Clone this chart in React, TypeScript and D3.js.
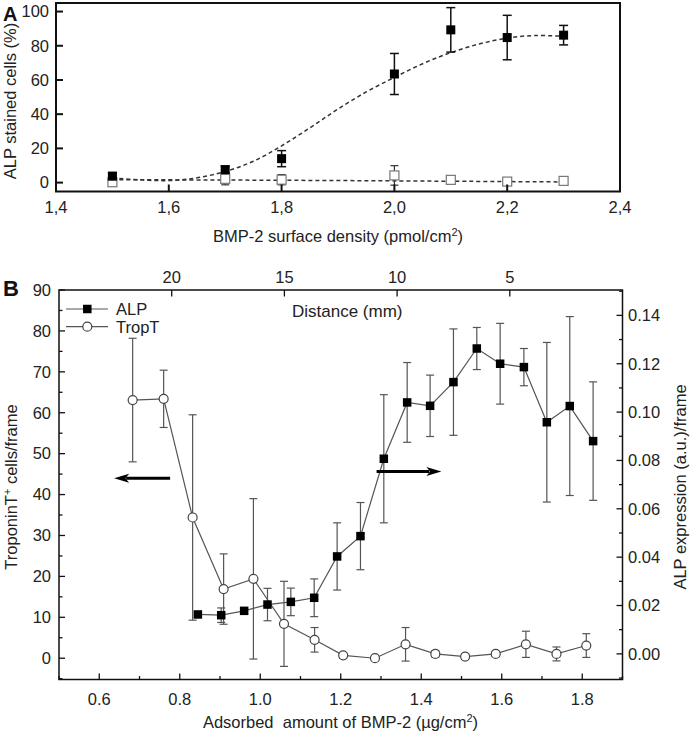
import * as d3 from "d3";

const FONT = "'Liberation Sans', Arial, Helvetica, sans-serif";

// Panel A: ALP stained cells vs BMP-2 surface density
const A_DENSITY = [1.5, 1.7, 1.8, 2.0, 2.1, 2.2, 2.3];
const A_ALP = [3.8, 7.6, 14, 63.5, 89.3, 84.8, 86.2];
const A_ALP_ERR = [2, 2, 4.7, 12, 13, 13, 5.7];
const A_CTRL = [0.2, 2.2, 1.7, 4.2, 1.6, 0.6, 1.0];
const A_CTRL_ERR = [1.2, 3.5, 3, 5.7, 1.5, 1.2, 1.5];
const A_FIT_X = [1.5, 1.55, 1.6, 1.65, 1.7, 1.75, 1.8, 1.85, 1.9, 1.95, 2.0, 2.05, 2.1, 2.15, 2.2, 2.25, 2.3];
const A_FIT_Y = [2.8, 1.6, 1.2, 2.8, 6.5, 12.5, 21.5, 32, 43, 53, 61.5, 69.5, 76, 81, 84.5, 86, 85.5];
const A_CTRL_FIT_X = [1.5, 1.7, 1.9, 2.1, 2.3];
const A_CTRL_FIT_Y = [1.7, 1.5, 1.2, 0.8, 0.4];
const A_XTICKS = [1.4, 1.6, 1.8, 2.0, 2.2, 2.4];
const A_YTICKS = [0, 20, 40, 60, 80, 100];

// Panel B: TroponinT+ cells and ALP expression vs adsorbed BMP-2
const TROP_X = [0.683, 0.76, 0.832, 0.909, 0.983, 1.059, 1.135, 1.206, 1.285, 1.361, 1.435, 1.509, 1.585, 1.66, 1.736, 1.81];
const TROP_Y = [63.1, 63.4, 34.4, 16.9, 19.4, 8.4, 4.5, 0.7, 0.0, 3.4, 1.05, 0.4, 1.05, 3.4, 1.05, 3.1];
const TROP_ERR = [15.1, 7, 25.1, 8.6, 19.6, 10.4, 3, 0.6, 0.3, 4.1, 0.8, 0.6, 0.6, 3.2, 1.7, 2.9];
const ALP_X = [0.845, 0.903, 0.96, 1.018, 1.076, 1.134, 1.191, 1.249, 1.307, 1.365, 1.422, 1.48, 1.538, 1.596, 1.655, 1.712, 1.769, 1.827];
const ALP_Y = [0.0163, 0.016, 0.0178, 0.0204, 0.0215, 0.0232, 0.0403, 0.0487, 0.0807, 0.104, 0.1026, 0.1124, 0.1263, 0.12, 0.1186, 0.0958, 0.1025, 0.088];
const ALP_ERR = [0.0005, 0.003, 0.001, 0.0067, 0.0057, 0.0078, 0.0139, 0.0139, 0.0265, 0.0165, 0.0127, 0.022, 0.0087, 0.0167, 0.0077, 0.033, 0.037, 0.0245];
const B_XTICKS = [0.6, 0.8, 1.0, 1.2, 1.4, 1.6, 1.8];
const B_XMINOR = [0.5, 0.7, 0.9, 1.1, 1.3, 1.5, 1.7, 1.9];
const B_LTICKS = [0, 10, 20, 30, 40, 50, 60, 70, 80, 90];
const B_LMINOR = [-5, 5, 15, 25, 35, 45, 55, 65, 75, 85];
const B_RTICKS = [0, 0.02, 0.04, 0.06, 0.08, 0.1, 0.12, 0.14];
const B_RMINOR = [-0.01, 0.01, 0.03, 0.05, 0.07, 0.09, 0.11, 0.13, 0.15];
const DIST_TICKS = [20, 15, 10, 5];

function ErrorBar({ x, y0, y1, cap, stroke, width = 1.2 }: any) {
  return (
    <g stroke={stroke} strokeWidth={width}>
      <line x1={x} x2={x} y1={y0} y2={y1} />
      <line x1={x - cap / 2} x2={x + cap / 2} y1={y0} y2={y0} />
      <line x1={x - cap / 2} x2={x + cap / 2} y1={y1} y2={y1} />
    </g>
  );
}

function PanelA() {
  const x = d3.scaleLinear().domain([1.4, 2.4]).range([56, 620]);
  const y = d3.scaleLinear().domain([-5.2, 105]).range([191.5, 3]);
  const fit = d3
    .line<number>()
    .x((_, i) => x(A_FIT_X[i]))
    .y((d) => y(d))
    .curve(d3.curveCatmullRom);
  const ctrlFit = d3
    .line<number>()
    .x((_, i) => x(A_CTRL_FIT_X[i]))
    .y((d) => y(d))
    .curve(d3.curveCatmullRom);
  const fmt = (v: number) => d3.format(".1f")(v).replace(".", ",");
  const s = 9;

  return (
    <g>
      <path d={fit(A_FIT_Y)!} fill="none" stroke="#333" strokeWidth={1.5} strokeDasharray="4,3" />
      <path d={ctrlFit(A_CTRL_FIT_Y)!} fill="none" stroke="#333" strokeWidth={1.5} strokeDasharray="4,3" />

      {A_DENSITY.map((d, i) => (
        <ErrorBar key={"ce" + i} x={x(d)} y0={y(A_CTRL[i] - A_CTRL_ERR[i])} y1={y(A_CTRL[i] + A_CTRL_ERR[i])} cap={8} stroke="#333" />
      ))}
      {A_DENSITY.map((d, i) => (
        <rect key={"cs" + i} x={x(d) - s / 2} y={y(A_CTRL[i]) - s / 2} width={s} height={s} fill="#fff" stroke="#777" strokeWidth={1.2} />
      ))}
      {A_DENSITY.map((d, i) => (
        <ErrorBar key={"ae" + i} x={x(d)} y0={y(A_ALP[i] - A_ALP_ERR[i])} y1={y(A_ALP[i] + A_ALP_ERR[i])} cap={9} stroke="#111" width={1.5} />
      ))}
      {A_DENSITY.map((d, i) => (
        <rect key={"as" + i} x={x(d) - s / 2} y={y(A_ALP[i]) - s / 2} width={s} height={s} fill="#000" />
      ))}

      {/* frame and ticks */}
      <rect x={56} y={3} width={564} height={188.5} fill="none" stroke="#111" strokeWidth={2} />
      {A_YTICKS.map((t) => (
        <g key={"yt" + t}>
          <line x1={56} x2={63} y1={y(t)} y2={y(t)} stroke="#111" strokeWidth={2} />
          <text x={49} y={y(t)} dy="0.35em" textAnchor="end" fontSize={16.5} fill="#222">{t}</text>
        </g>
      ))}
      {A_XTICKS.map((t) => (
        <g key={"xt" + t}>
          <line x1={x(t)} x2={x(t)} y1={191.5} y2={184.5} stroke="#111" strokeWidth={2} />
          <text x={x(t)} y={213} textAnchor="middle" fontSize={16.5} fill="#222">{fmt(t)}</text>
        </g>
      ))}
      <text x={338} y={242} textAnchor="middle" fontSize={16.5} fill="#222">
        BMP-2 surface density (pmol/cm<tspan fontSize={11} dy={-6}>2</tspan><tspan dy={6}>)</tspan>
      </text>
      <text transform="translate(16,101) rotate(-90)" textAnchor="middle" fontSize={16.5} fill="#222">
        ALP stained cells (%)
      </text>
      <text x={3} y={21} fontSize={20} fontWeight="bold" fill="#111">A</text>
    </g>
  );
}

function Arrow({ x1, x2, y }: any) {
  const dir = Math.sign(x2 - x1);
  const head = 15;
  return (
    <g>
      <line x1={x1} x2={x2 - dir * head * 0.8} y1={y} y2={y} stroke="#000" strokeWidth={3} />
      <path d={`M${x2},${y} L${x2 - dir * head},${y - 4.5} L${x2 - dir * head * 0.75},${y} L${x2 - dir * head},${y + 4.5} Z`} fill="#000" />
    </g>
  );
}

function PanelB() {
  const L = 59, R = 622.5, T = 290, B = 679.5;
  const x = d3.scaleLinear().domain([0.5, 1.9]).range([L, R]);
  const yL = d3.scaleLinear().domain([-5.2, 90]).range([B, T]);
  const yR = d3.scaleLinear().domain([-0.0106, 0.1505]).range([B, T]);
  const xTop = d3.scaleLinear().domain([25, 0]).range([L, R]);
  const lineTrop = d3.line<number>().x((_, i) => x(TROP_X[i])).y((d) => yL(d));
  const lineAlp = d3.line<number>().x((_, i) => x(ALP_X[i])).y((d) => yR(d));
  const gray = "#555";
  const s = 8.5;
  const r = 4.5;
  const fs = 16.5;

  return (
    <g>
      <path d={lineTrop(TROP_Y)!} fill="none" stroke={gray} strokeWidth={1.2} />
      <path d={lineAlp(ALP_Y)!} fill="none" stroke={gray} strokeWidth={1.2} />
      {TROP_X.map((d, i) => (
        <ErrorBar key={"te" + i} x={x(d)} y0={yL(TROP_Y[i] - TROP_ERR[i])} y1={yL(TROP_Y[i] + TROP_ERR[i])} cap={8} stroke={gray} />
      ))}
      {ALP_X.map((d, i) => (
        <ErrorBar key={"ae" + i} x={x(d)} y0={yR(ALP_Y[i] - ALP_ERR[i])} y1={yR(ALP_Y[i] + ALP_ERR[i])} cap={8} stroke={gray} />
      ))}
      {TROP_X.map((d, i) => (
        <circle key={"tc" + i} cx={x(d)} cy={yL(TROP_Y[i])} r={r} fill="#fff" stroke="#444" strokeWidth={1.2} />
      ))}
      {ALP_X.map((d, i) => (
        <rect key={"as" + i} x={x(d) - s / 2} y={yR(ALP_Y[i]) - s / 2} width={s} height={s} fill="#000" />
      ))}

      {/* direction arrows */}
      <Arrow x1={x(0.776)} x2={x(0.637)} y={yL(44)} />
      <Arrow x1={x(1.289)} x2={x(1.45)} y={yR(0.0754)} />

      {/* frame */}
      <rect x={L} y={T} width={R - L} height={B - T} fill="none" stroke="#111" strokeWidth={1.5} />

      {B_LTICKS.map((t) => (
        <g key={"lt" + t}>
          <line x1={L} x2={L + 6} y1={yL(t)} y2={yL(t)} stroke="#111" strokeWidth={1.3} />
          <text x={51} y={yL(t)} dy="0.35em" textAnchor="end" fontSize={fs} fill="#222">{t}</text>
        </g>
      ))}
      {B_LMINOR.map((t) => (
        <line key={"lm" + t} x1={L} x2={L + 3.5} y1={yL(t)} y2={yL(t)} stroke="#111" strokeWidth={1.3} />
      ))}
      {B_RTICKS.map((t) => (
        <g key={"rt" + t}>
          <line x1={R} x2={R - 6} y1={yR(t)} y2={yR(t)} stroke="#111" strokeWidth={1.3} />
          <text x={628} y={yR(t)} dy="0.35em" textAnchor="start" fontSize={fs} fill="#222">{d3.format(".2f")(t)}</text>
        </g>
      ))}
      {B_RMINOR.map((t) => (
        <line key={"rm" + t} x1={R} x2={R - 3.5} y1={yR(t)} y2={yR(t)} stroke="#111" strokeWidth={1.3} />
      ))}
      {B_XTICKS.map((t) => (
        <g key={"xt" + t}>
          <line x1={x(t)} x2={x(t)} y1={B} y2={B - 6} stroke="#111" strokeWidth={1.3} />
          <text x={x(t)} y={705} textAnchor="middle" fontSize={fs} fill="#222">{d3.format(".1f")(t)}</text>
        </g>
      ))}
      {B_XMINOR.map((t) => (
        <line key={"xm" + t} x1={x(t)} x2={x(t)} y1={B} y2={B - 3.5} stroke="#111" strokeWidth={1.3} />
      ))}
      {DIST_TICKS.map((t) => (
        <g key={"dt" + t}>
          <line x1={xTop(t)} x2={xTop(t)} y1={T} y2={T + 6.5} stroke="#111" strokeWidth={1.3} />
          <text x={xTop(t)} y={283} textAnchor="middle" fontSize={fs} fill="#222">{t}</text>
        </g>
      ))}
      <text x={292} y={317} fontSize={17} fill="#222">Distance (mm)</text>

      {/* legend */}
      <line x1={66} x2={108} y1={309} y2={309} stroke={gray} strokeWidth={1.2} />
      <rect x={87.3 - s / 2} y={309 - s / 2} width={s} height={s} fill="#000" />
      <text x={116} y={315} fontSize={fs} fill="#222">ALP</text>
      <line x1={66} x2={108} y1={326.7} y2={326.7} stroke={gray} strokeWidth={1.2} />
      <circle cx={87.3} cy={326.7} r={r} fill="#fff" stroke="#444" strokeWidth={1.2} />
      <text x={116} y={333} fontSize={fs} fill="#222">TropT</text>

      {/* titles */}
      <text x={340.5} y={728} textAnchor="middle" fontSize={fs} fill="#222" style={{ whiteSpace: "pre" }}>
        {"Adsorbed  amount of BMP-2 (µg/cm"}<tspan fontSize={11} dy={-6}>2</tspan><tspan dy={6}>)</tspan>
      </text>
      <text transform="translate(17,487) rotate(-90)" textAnchor="middle" fontSize={fs} fill="#222" style={{ whiteSpace: "pre" }}>
        TroponinT<tspan fontSize={11} dy={-6}>+</tspan><tspan dy={6}> cells/frame</tspan>
      </text>
      <text transform="translate(686,487) rotate(-90)" textAnchor="middle" fontSize={fs} fill="#222">
        ALP expression (a.u.)/frame
      </text>
      <text x={3} y={296} fontSize={22} fontWeight="bold" fill="#111">B</text>
    </g>
  );
}

export default function App() {
  return (
    <svg
      width={692}
      height={736}
      fontFamily={FONT}
      style={{ position: "absolute", left: 0, top: 0, background: "#fff" }}
    >
      <rect width={692} height={736} fill="#fff" />
      <PanelA />
      <PanelB />
    </svg>
  );
}
